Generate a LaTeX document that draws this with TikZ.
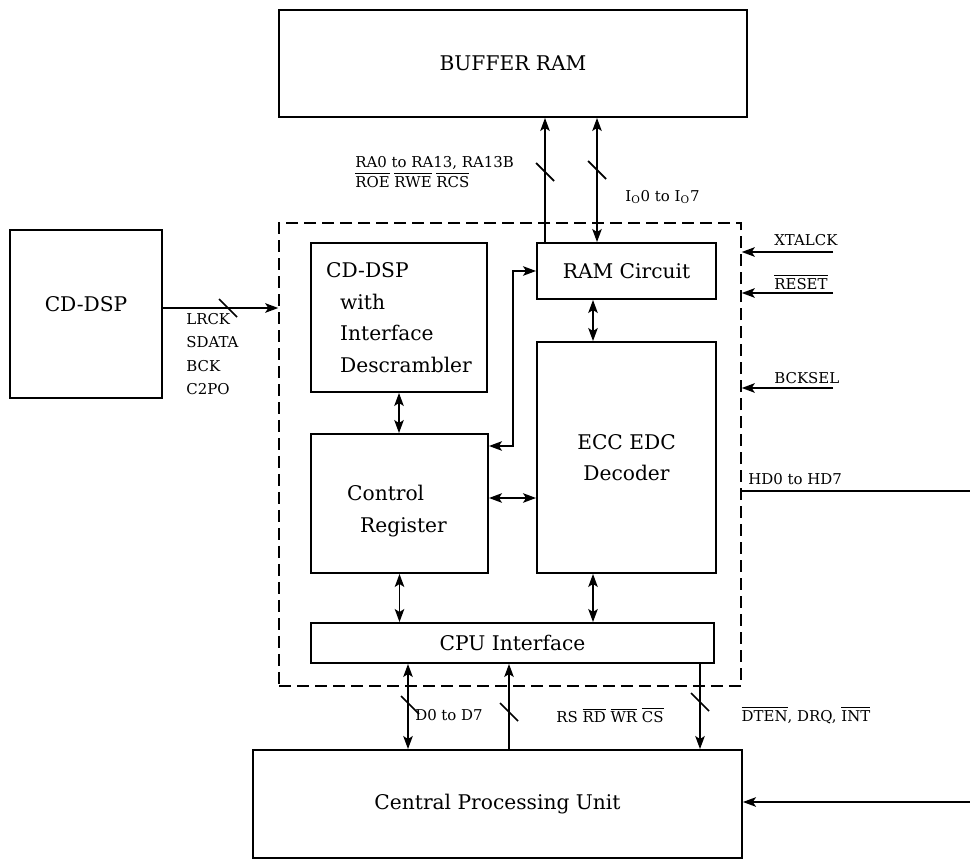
\documentclass[tikz,border=0pt]{standalone}
\usepackage{fontspec}
\setmainfont{DejaVu Serif}
\usetikzlibrary{arrows.meta,positioning}
\newcommand{\ovl}[1]{$\overline{\mbox{#1}}$}
\newcommand{\busmark}[2]{\draw[line width=1pt] (#1,#2) ++(-9,-9) -- ++(18,18);}

\begin{document}
\begin{tikzpicture}[
  x=0.02cm,y=-0.02cm,
  >={Stealth[length=2.6mm,width=1.9mm,inset=0.6mm]},
  blk/.style={draw,line width=1.1pt,font=\fontsize{11.5}{18}\selectfont,inner sep=0pt},
  sig/.style={font=\fontsize{8.5}{11}\selectfont,inner sep=0pt},
  bus/.style={line width=1pt}
]
  \useasboundingbox (0,0) rectangle (970,861);
  % blocks
  \node[blk,minimum width=9.36cm,minimum height=2.14cm] (buffer) at (513,63.5) {BUFFER RAM};
  \node[blk,minimum width=3.04cm,minimum height=3.36cm] (dspin) at (86,314) {\raisebox{0.4cm}{CD-DSP}};
  \node[draw,line width=0.9pt,dash pattern=on 2.4mm off 1.2mm,minimum width=9.24cm,minimum height=9.26cm] (chip) at (510,454.5) {};
  \node[blk,minimum width=3.52cm,minimum height=2.98cm,align=left] (dsp) at (399,317.5)
    {CD-DSP\\\hspace*{0.28cm}with\\\hspace*{0.28cm}Interface\\\hspace*{0.28cm}Descrambler};
  \node[blk,minimum width=3.54cm,minimum height=2.78cm,align=left] (ctrl) at (399.5,503.5)
    {\hspace*{-0.1cm}\rule{0pt}{0.62cm}Control\\\hspace*{0.16cm}Register};
  \node[blk,minimum width=3.58cm,minimum height=1.12cm] (ramc) at (626.5,271) {RAM Circuit};
  \node[blk,minimum width=3.58cm,minimum height=4.62cm,align=center] (ecc) at (626.5,457.5)
    {ECC EDC\\Decoder};
  \node[blk,minimum width=8.06cm,minimum height=0.8cm] (cpuif) at (512.5,643) {CPU Interface};
  \node[blk,minimum width=9.78cm,minimum height=2.16cm] (cpu) at (497.5,804) {Central Processing Unit};
  % helper coordinates
  \coordinate (xa) at (545,0);
  \coordinate (xb) at (597,0);
  \coordinate (ya) at (0,308);
  \coordinate (jx) at (513,0);
  \coordinate (yb) at (0,446);
  \coordinate (xd) at (593,0);
  \coordinate (ye) at (0,498);
  \coordinate (xe) at (408,0);
  \coordinate (xf) at (509,0);
  \coordinate (xg) at (700,0);
  \coordinate (xtal) at (833,252);
  \coordinate (rst) at (833,293);
  \coordinate (bsel) at (833,388);
  \coordinate (hd) at (970,491);
  \coordinate (cpuin) at (970,802);
  % buffer ram buses
  \draw[bus,->] (ramc.north -| xa) -- (buffer.south -| xa);
  \draw[bus,<->] (ramc.north -| xb) -- (buffer.south -| xb);
  \busmark{545}{172}
  \busmark{597}{170}
  \node[sig,anchor=west,align=left] (ralbl) at (355,172) {RA0 to RA13, RA13B\\\ovl{ROE} \ovl{RWE} \ovl{RCS}};
  \node[sig,anchor=west] (iolbl) at (625,197) {I$_{\mathrm{O}}$0 to I$_{\mathrm{O}}$7};
  % cd-dsp input
  \draw[bus,->] (dspin.east |- ya) -- (chip.west |- ya);
  \busmark{228}{308}
  \node[sig,anchor=north west,align=left,font=\fontsize{8.5}{13.3}\selectfont] (dsplbl) at (186,313)
    {LRCK\\SDATA\\BCK\\C2PO};
  % control inputs
  \draw[bus,->] (xtal) -- (chip.east |- xtal);
  \draw[bus,->] (rst) -- (chip.east |- rst);
  \draw[bus,->] (bsel) -- (chip.east |- bsel);
  \node[sig,anchor=west] (xtallbl) at (774,240) {XTALCK};
  \node[sig,anchor=west] (rstlbl) at (774,282) {\ovl{RESET}};
  \node[sig,anchor=west] (bsellbl) at (774,378) {BCKSEL};
  \draw[bus] (chip.east |- hd) -- (hd);
  \node[sig,anchor=west] (hdlbl) at (748,479) {HD0 to HD7};
  \draw[bus,->] (cpuin) -- (cpu.east |- cpuin);
  % internal paths
  \draw[bus,<->] (dsp.south) -- (dsp.south |- ctrl.north);
  \draw[bus,<->] (ctrl.east |- yb) -| (jx |- ramc.west) -- (ramc.west);
  \draw[bus,<->] (ramc.south -| xd) -- (ecc.north -| xd);
  \draw[bus,<->] (ctrl.east |- ye) -- (ecc.west |- ye);
  \draw[bus,<->] (ctrl.south) -- (ctrl.south |- cpuif.north);
  \draw[bus,<->] (ecc.south -| xd) -- (cpuif.north -| xd);
  % cpu buses
  \draw[bus,<->] (cpuif.south -| xe) -- (cpu.north -| xe);
  \draw[bus,->] (cpu.north -| xf) -- (cpuif.south -| xf);
  \draw[bus,->] (cpuif.south -| xg) -- (cpu.north -| xg);
  \busmark{410}{705}
  \busmark{509}{712}
  \busmark{700}{702}
  \node[sig] (dlbl) at (449,715) {D0 to D7};
  \node[sig] (rslbl) at (610,715) {RS \ovl{RD} \ovl{WR} \ovl{CS}};
  \node[sig] (dtenlbl) at (806,715) {\ovl{DTEN}, DRQ, \ovl{INT}};
\end{tikzpicture}
\end{document}
